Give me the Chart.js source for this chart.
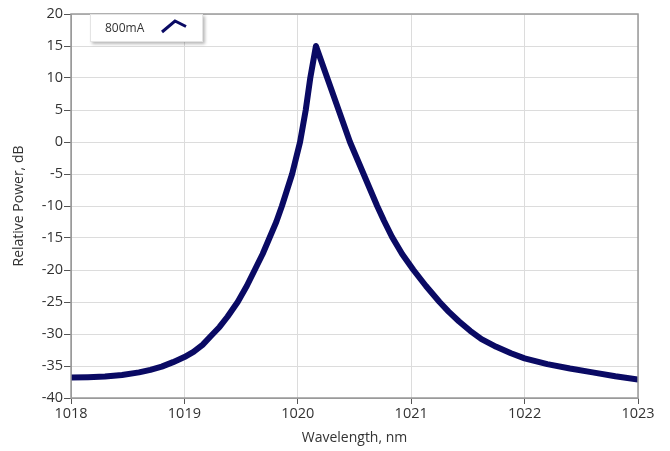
<!DOCTYPE html>
<html>
<head>
<meta charset="utf-8">
<title>Relative Power vs Wavelength</title>
<script src="https://cdn.jsdelivr.net/npm/chart.js@4.4.0/dist/chart.umd.min.js"></script>
<style>
  body { margin: 0; background: #fff; }
  #wrap { position: relative; width: 670px; height: 451px; }
  #legend-box {
    position: absolute; left: 90px; top: 14px; width: 111px; height: 26px;
    background: #fff; border: 1px solid #e4e4e4;
    box-shadow: 2px 2px 3px rgba(0, 0, 0, 0.28);
    font-family: "Open Sans", sans-serif; font-size: 12px; color: #333;
  }
  #legend-box span { position: absolute; left: 14px; top: 4px; }
  #legend-box svg { position: absolute; left: 70px; top: 3px; }
</style>
</head>
<body>
<div id="wrap">
  <canvas id="spectrumChart" width="670" height="451"></canvas>
  <div id="legend-box">
    <span>800mA</span>
    <svg width="30" height="18"><polyline points="1,14 14,3 25,8.5" fill="none" stroke="#0a0a64" stroke-width="3"/></svg>
  </div>
</div>
<script>
// values
const seriesName = '800mA';
const wavelengths = [1018.00, 1018.15, 1018.30, 1018.45, 1018.60, 1018.70, 1018.80, 1018.90, 1019.00, 1019.08,
  1019.16, 1019.24, 1019.31, 1019.38, 1019.47, 1019.55, 1019.62, 1019.69, 1019.75, 1019.81,
  1019.86, 1019.905, 1019.95, 1019.985, 1020.02, 1020.045, 1020.07, 1020.09, 1020.11, 1020.135,
  1020.16, 1020.21, 1020.26, 1020.31, 1020.36, 1020.41, 1020.46, 1020.52, 1020.58, 1020.64,
  1020.70, 1020.76, 1020.83, 1020.92, 1021.02, 1021.13, 1021.25, 1021.33, 1021.42, 1021.52,
  1021.62, 1021.75, 1021.88, 1022.00, 1022.20, 1022.40, 1022.60, 1022.80, 1023.00];
const powers = [-36.8, -36.75, -36.65, -36.4, -36.0, -35.6, -35.1, -34.4, -33.6, -32.8,
  -31.7, -30.2, -28.9, -27.3, -25.0, -22.5, -20.0, -17.5, -15.0, -12.5,
  -10.0, -7.5, -5.0, -2.5, 0.0, 2.5, 5.0, 7.5, 10.0, 12.5,
  15.0, 12.5, 10.0, 7.5, 5.0, 2.5, 0.0, -2.5, -5.0, -7.5,
  -10.0, -12.3, -14.8, -17.5, -20.0, -22.5, -25.0, -26.5, -28.0, -29.5,
  -30.8, -32.0, -33.0, -33.8, -34.7, -35.4, -36.0, -36.6, -37.1];
const xTicks = [1018, 1019, 1020, 1021, 1022, 1023];
const yTicks = [-40, -35, -30, -25, -20, -15, -10, -5, 0, 5, 10, 15, 20];

const points = wavelengths.map((w, i) => ({ x: w, y: powers[i] }));

// grey frame round the plot area
const frame = {
  id: 'frame',
  afterDraw(chart) {
    const a = chart.chartArea;
    const ctx = chart.ctx;
    ctx.save();
    ctx.strokeStyle = '#9a9a9a';
    ctx.lineWidth = 1.5;
    ctx.strokeRect(a.left, a.top, a.right - a.left, a.bottom - a.top);
    ctx.restore();
  }
};

const tickFont = { family: 'Open Sans', size: 14.5 };

const ctx = document.getElementById('spectrumChart').getContext('2d');
new Chart(ctx, {
  type: 'line',
  data: {
    datasets: [{
      label: seriesName,
      data: points,
      borderColor: '#0a0a64',
      borderWidth: 6,
      borderJoinStyle: 'round',
      borderCapStyle: 'round',
      pointRadius: 0,
      tension: 0,
      fill: false
    }]
  },
  options: {
    responsive: false,
    animation: false,
    layout: { padding: { top: 14, right: 32, left: 0, bottom: 0 } },
    plugins: {
      legend: { display: false },
      tooltip: { enabled: false }
    },
    scales: {
      x: {
        type: 'linear',
        min: 1018,
        max: 1023,
        afterBuildTicks: scale => { scale.ticks = xTicks.map(v => ({ value: v })); },
        afterFit: scale => { scale.height = 53; },
        grid: { color: '#dcdcdc', tickColor: '#555', tickLength: 6 },
        border: { color: '#9a9a9a' },
        ticks: { font: tickFont, color: '#333', padding: 1, maxRotation: 0, callback: v => String(v) },
        title: {
          display: true,
          text: 'Wavelength, nm',
          font: { family: 'Open Sans', size: 14 },
          color: '#333',
          padding: { top: 0, bottom: 5 }
        }
      },
      y: {
        min: -40,
        max: 20,
        afterBuildTicks: scale => { scale.ticks = yTicks.map(v => ({ value: v })); },
        afterFit: scale => { scale.width = 71; },
        grid: { color: '#dcdcdc', tickColor: '#555', tickLength: 7 },
        border: { color: '#9a9a9a' },
        ticks: { font: tickFont, color: '#333', padding: 1, callback: v => String(v) },
        title: {
          display: true,
          text: 'Relative Power, dB',
          font: { family: 'Open Sans', size: 14 },
          color: '#333',
          padding: { top: 11, bottom: 0 }
        }
      }
    }
  },
  plugins: [frame]
});
</script>
</body>
</html>
